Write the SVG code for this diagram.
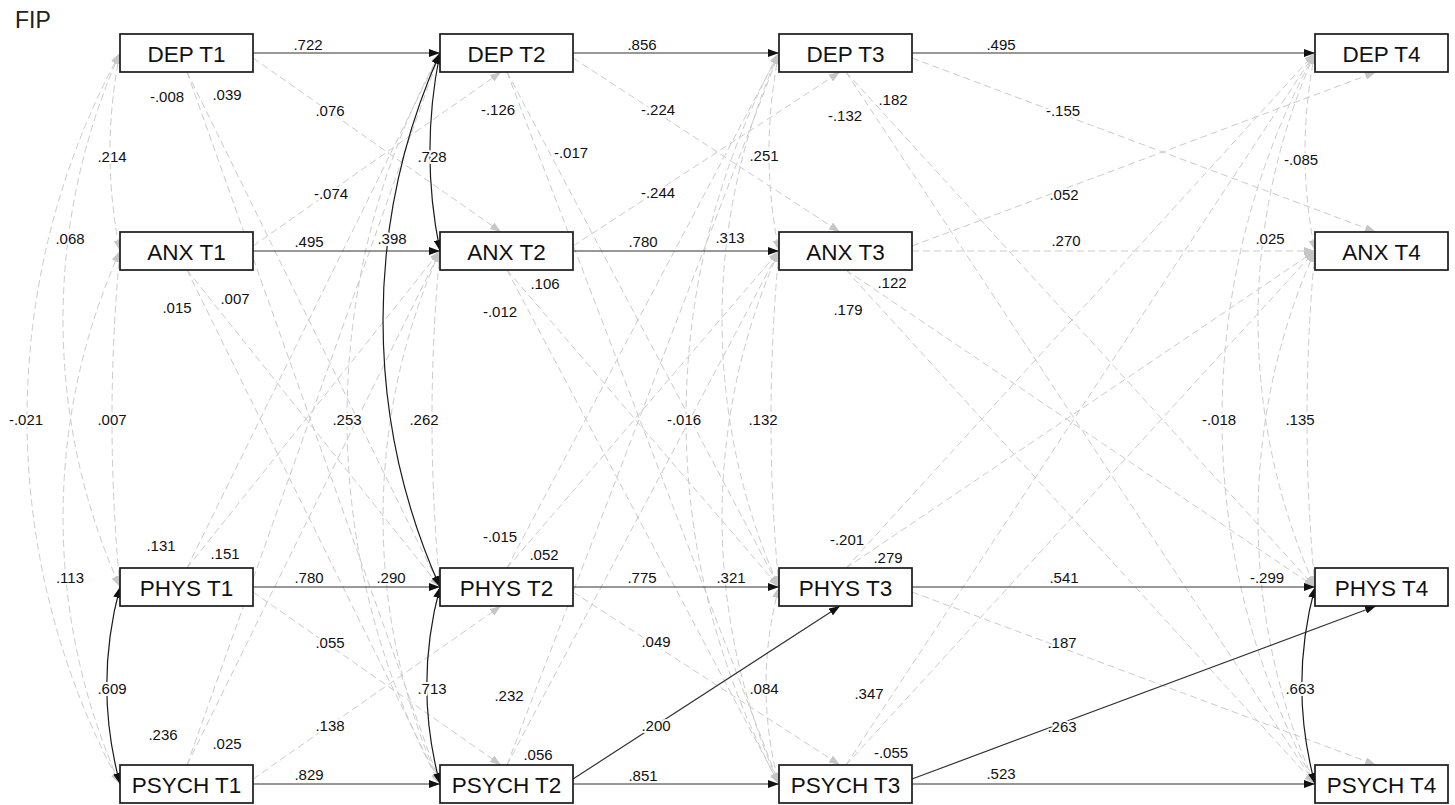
<svg xmlns="http://www.w3.org/2000/svg" width="1455" height="805" viewBox="0 0 1455 805">
<defs>
<marker id="ag" markerUnits="userSpaceOnUse" markerWidth="11" markerHeight="8" refX="11" refY="4" orient="auto-start-reverse"><path d="M0,0 L11,4 L0,8 z" fill="#c6c6c6"/></marker>
<marker id="ak" markerUnits="userSpaceOnUse" markerWidth="11" markerHeight="8" refX="11" refY="4" orient="auto-start-reverse"><path d="M0,0 L11,4 L0,8 z" fill="#111"/></marker>
</defs>
<style>
.box{fill:#fff;stroke:#1a1a1a;stroke-width:1.7}
.nt{font-family:"Liberation Sans",Arial,sans-serif;font-size:22.5px;text-anchor:middle;fill:#111}
.c{font-family:"Liberation Sans",Arial,sans-serif;font-size:15px;text-anchor:middle;fill:#111;stroke:#fff;stroke-width:4;paint-order:stroke;stroke-linejoin:round}
.d{fill:none;stroke:#cbcbcb;stroke-width:1;stroke-dasharray:7 4;marker-end:url(#ag)}
.s{fill:none;stroke:#333;stroke-width:1.2;marker-end:url(#ak)}
.dd{fill:none;stroke:#cbcbcb;stroke-width:1;stroke-dasharray:7 4;marker-start:url(#ag);marker-end:url(#ag)}
.ss{fill:none;stroke:#1a1a1a;stroke-width:1.2;marker-start:url(#ak);marker-end:url(#ak)}
</style>
<rect width="1455" height="805" fill="#fff"/>
<text x="15" y="28" font-family="Liberation Sans, Arial, sans-serif" font-size="23" fill="#222">FIP</text>
<g id="connectors">
<g id="dashed">
<path class="d" d="M253 58 L501 232"/>
<path class="d" d="M253 246 L501 72"/>
<path class="d" d="M253 592 L501 765"/>
<path class="d" d="M253 779 L501 606"/>
<path class="d" d="M187 72 L440 587"/>
<path class="d" d="M187 72 L440 784"/>
<path class="d" d="M187 270 L440 587"/>
<path class="d" d="M187 270 L440 784"/>
<path class="d" d="M187 568 L440 53"/>
<path class="d" d="M187 568 L440 251"/>
<path class="d" d="M187 765 L440 53"/>
<path class="d" d="M187 765 L440 251"/>
<path class="d" d="M573 58 L840 232"/>
<path class="d" d="M573 246 L840 72"/>
<path class="d" d="M573 592 L840 765"/>
<path class="d" d="M507 72 L779 587"/>
<path class="d" d="M507 72 L779 784"/>
<path class="d" d="M507 270 L779 587"/>
<path class="d" d="M507 270 L779 784"/>
<path class="d" d="M507 568 L779 53"/>
<path class="d" d="M507 568 L779 251"/>
<path class="d" d="M507 765 L779 53"/>
<path class="d" d="M507 765 L779 251"/>
<path class="d" d="M912 251 L1315 251"/>
<path class="d" d="M912 58 L1376 232"/>
<path class="d" d="M912 246 L1376 72"/>
<path class="d" d="M912 592 L1376 765"/>
<path class="d" d="M846 72 L1315 587"/>
<path class="d" d="M846 72 L1315 784"/>
<path class="d" d="M846 270 L1315 587"/>
<path class="d" d="M846 270 L1315 784"/>
<path class="d" d="M846 568 L1315 53"/>
<path class="d" d="M846 568 L1315 251"/>
<path class="d" d="M846 765 L1315 53"/>
<path class="d" d="M846 765 L1315 251"/>
<path class="dd" d="M120 53 A495 495 0 0 0 120 251"/>
<path class="dd" d="M120 53 A654 654 0 0 0 120 587"/>
<path class="dd" d="M120 53 A765 765 0 0 0 120 784"/>
<path class="dd" d="M120 251 A1768 1768 0 0 0 120 587"/>
<path class="dd" d="M120 251 A652 652 0 0 0 120 784"/>
<path class="dd" d="M440 53 A765 765 0 0 0 440 784"/>
<path class="dd" d="M440 251 A1768 1768 0 0 0 440 587"/>
<path class="dd" d="M440 251 A652 652 0 0 0 440 784"/>
<path class="dd" d="M779 53 A495 495 0 0 0 779 251"/>
<path class="dd" d="M779 53 A654 654 0 0 0 779 587"/>
<path class="dd" d="M779 53 A765 765 0 0 0 779 784"/>
<path class="dd" d="M779 251 A1768 1768 0 0 0 779 587"/>
<path class="dd" d="M779 251 A652 652 0 0 0 779 784"/>
<path class="dd" d="M779 587 A380 380 0 0 0 779 784"/>
<path class="dd" d="M1315 53 A495 495 0 0 0 1315 251"/>
<path class="dd" d="M1315 53 A654 654 0 0 0 1315 587"/>
<path class="dd" d="M1315 53 A765 765 0 0 0 1315 784"/>
<path class="dd" d="M1315 251 A1768 1768 0 0 0 1315 587"/>
<path class="dd" d="M1315 251 A652 652 0 0 0 1315 784"/>
</g>
<g id="solid">
<path class="s" d="M253 53 L440 53"/>
<path class="s" d="M253 251 L440 251"/>
<path class="s" d="M253 587 L440 587"/>
<path class="s" d="M253 784 L440 784"/>
<path class="s" d="M573 53 L779 53"/>
<path class="s" d="M573 251 L779 251"/>
<path class="s" d="M573 587 L779 587"/>
<path class="s" d="M573 784 L779 784"/>
<path class="s" d="M573 779 L840 606"/>
<path class="s" d="M912 53 L1315 53"/>
<path class="s" d="M912 587 L1315 587"/>
<path class="s" d="M912 784 L1315 784"/>
<path class="s" d="M912 779 L1376 606"/>
<path class="ss" d="M120 587 A380 380 0 0 0 120 784"/>
<path class="ss" d="M440 53 A495 495 0 0 0 440 251"/>
<path class="ss" d="M440 53 A654 654 0 0 0 440 587"/>
<path class="ss" d="M440 587 A380 380 0 0 0 440 784"/>
<path class="ss" d="M1315 587 A380 380 0 0 0 1315 784"/>
</g>
</g>
<g id="dep-t1"><rect class="box" x="120" y="34" width="133" height="38"/><text class="nt" x="186.5" y="62">DEP T1</text></g>
<g id="anx-t1"><rect class="box" x="120" y="232" width="133" height="38"/><text class="nt" x="186.5" y="260">ANX T1</text></g>
<g id="phys-t1"><rect class="box" x="120" y="568" width="133" height="38"/><text class="nt" x="186.5" y="596">PHYS T1</text></g>
<g id="psych-t1"><rect class="box" x="120" y="765" width="133" height="38"/><text class="nt" x="186.5" y="793">PSYCH T1</text></g>
<g id="dep-t2"><rect class="box" x="440" y="34" width="133" height="38"/><text class="nt" x="506.5" y="62">DEP T2</text></g>
<g id="anx-t2"><rect class="box" x="440" y="232" width="133" height="38"/><text class="nt" x="506.5" y="260">ANX T2</text></g>
<g id="phys-t2"><rect class="box" x="440" y="568" width="133" height="38"/><text class="nt" x="506.5" y="596">PHYS T2</text></g>
<g id="psych-t2"><rect class="box" x="440" y="765" width="133" height="38"/><text class="nt" x="506.5" y="793">PSYCH T2</text></g>
<g id="dep-t3"><rect class="box" x="779" y="34" width="133" height="38"/><text class="nt" x="845.5" y="62">DEP T3</text></g>
<g id="anx-t3"><rect class="box" x="779" y="232" width="133" height="38"/><text class="nt" x="845.5" y="260">ANX T3</text></g>
<g id="phys-t3"><rect class="box" x="779" y="568" width="133" height="38"/><text class="nt" x="845.5" y="596">PHYS T3</text></g>
<g id="psych-t3"><rect class="box" x="779" y="765" width="133" height="38"/><text class="nt" x="845.5" y="793">PSYCH T3</text></g>
<g id="dep-t4"><rect class="box" x="1315" y="34" width="133" height="38"/><text class="nt" x="1381.5" y="62">DEP T4</text></g>
<g id="anx-t4"><rect class="box" x="1315" y="232" width="133" height="38"/><text class="nt" x="1381.5" y="260">ANX T4</text></g>
<g id="phys-t4"><rect class="box" x="1315" y="568" width="133" height="38"/><text class="nt" x="1381.5" y="596">PHYS T4</text></g>
<g id="psych-t4"><rect class="box" x="1315" y="765" width="133" height="38"/><text class="nt" x="1381.5" y="793">PSYCH T4</text></g>
<g id="labels">
<text class="c" x="308" y="50">.722</text>
<text class="c" x="309" y="247">.495</text>
<text class="c" x="309" y="583">.780</text>
<text class="c" x="309" y="780">.829</text>
<text class="c" x="330" y="116">.076</text>
<text class="c" x="331" y="199">-.074</text>
<text class="c" x="330" y="648">.055</text>
<text class="c" x="330" y="731">.138</text>
<text class="c" x="167" y="102">-.008</text>
<text class="c" x="227" y="100">.039</text>
<text class="c" x="177" y="313">.015</text>
<text class="c" x="235" y="304">.007</text>
<text class="c" x="161" y="551">.131</text>
<text class="c" x="225" y="559">.151</text>
<text class="c" x="163" y="740">.236</text>
<text class="c" x="227" y="749">.025</text>
<text class="c" x="112" y="162">.214</text>
<text class="c" x="70" y="244">.068</text>
<text class="c" x="26" y="425">-.021</text>
<text class="c" x="112" y="425">.007</text>
<text class="c" x="70" y="583">.113</text>
<text class="c" x="112" y="694">.609</text>
<text class="c" x="432" y="162">.728</text>
<text class="c" x="392" y="244">.398</text>
<text class="c" x="347" y="425">.253</text>
<text class="c" x="424" y="425">.262</text>
<text class="c" x="391" y="583">.290</text>
<text class="c" x="432" y="694">.713</text>
<text class="c" x="642" y="50">.856</text>
<text class="c" x="643" y="247">.780</text>
<text class="c" x="642" y="583">.775</text>
<text class="c" x="643" y="781">.851</text>
<text class="c" x="658" y="115">-.224</text>
<text class="c" x="658" y="198">-.244</text>
<text class="c" x="656" y="647">.049</text>
<text class="c" x="656" y="731">.200</text>
<text class="c" x="498" y="115">-.126</text>
<text class="c" x="571" y="158">-.017</text>
<text class="c" x="545" y="289">.106</text>
<text class="c" x="500" y="317">-.012</text>
<text class="c" x="500" y="542">-.015</text>
<text class="c" x="544" y="560">.052</text>
<text class="c" x="509" y="701">.232</text>
<text class="c" x="538" y="760">.056</text>
<text class="c" x="764" y="161">.251</text>
<text class="c" x="730" y="243">.313</text>
<text class="c" x="684" y="425">-.016</text>
<text class="c" x="763" y="425">.132</text>
<text class="c" x="731" y="583">.321</text>
<text class="c" x="764" y="694">.084</text>
<text class="c" x="1001" y="50">.495</text>
<text class="c" x="1066" y="246">.270</text>
<text class="c" x="1064" y="583">.541</text>
<text class="c" x="1001" y="779">.523</text>
<text class="c" x="1063" y="116">-.155</text>
<text class="c" x="1064" y="200">.052</text>
<text class="c" x="1062" y="648">.187</text>
<text class="c" x="1062" y="732">.263</text>
<text class="c" x="845" y="121">-.132</text>
<text class="c" x="893" y="105">.182</text>
<text class="c" x="892" y="288">.122</text>
<text class="c" x="848" y="315">.179</text>
<text class="c" x="847" y="545">-.201</text>
<text class="c" x="888" y="563">.279</text>
<text class="c" x="869" y="699">.347</text>
<text class="c" x="891" y="758">-.055</text>
<text class="c" x="1301" y="165">-.085</text>
<text class="c" x="1270" y="244">.025</text>
<text class="c" x="1219" y="425">-.018</text>
<text class="c" x="1300" y="425">.135</text>
<text class="c" x="1267" y="583">-.299</text>
<text class="c" x="1300" y="694">.663</text>
</g>
</svg>
